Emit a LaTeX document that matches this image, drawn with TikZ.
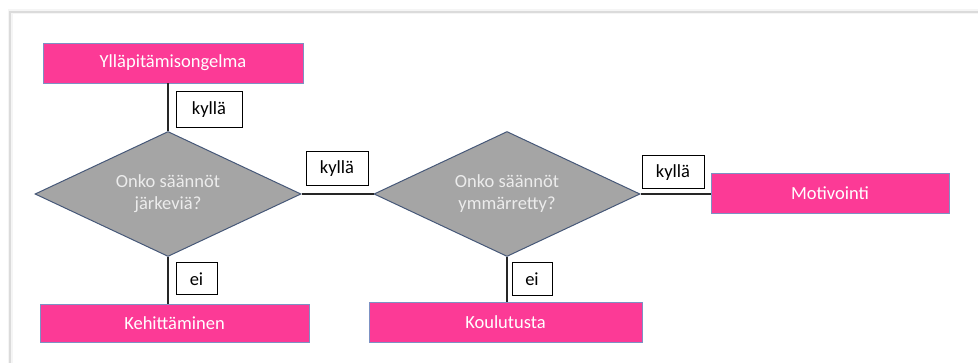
\documentclass[tikz,border=0pt]{standalone}
\usepackage{fontspec}
\setmainfont{Carlito}
\usetikzlibrary{shapes.geometric}
\definecolor{boxpink}{RGB}{252,58,150}
\definecolor{boxedge}{RGB}{125,145,195}
\definecolor{decfill}{RGB}{165,165,165}
\definecolor{decedge}{RGB}{70,88,120}
\definecolor{dectext}{RGB}{236,236,236}
\tikzset{
  x=1pt, y=-1pt,
  every node/.style={font=\fontsize{18.5}{22}\selectfont},
  actionbox/.style={rectangle, fill=boxpink, draw=boxedge, line width=0.8pt,
    text=white, inner sep=0pt, align=center},
  decision/.style={diamond, fill=decfill, draw=decedge, line width=1pt,
    text=dectext, inner sep=0pt, aspect=2.1, align=center,
    minimum width=266pt, minimum height=125pt},
  answer/.style={rectangle, fill=white, draw=black, line width=1pt,
    text=black, inner sep=0pt},
  link/.style={draw=black!85, line width=1.1pt}
}
\begin{document}
\begin{tikzpicture}
  \useasboundingbox (0,0) rectangle (978,363);
  % page frame with a soft edge
  \draw[black!4, line width=5pt] (10,363) -- (10,12) -- (978,12);
  \draw[black!14, line width=1.2pt] (10,363) -- (10,12) -- (978,12);

  % boxes and decisions
  \node[actionbox, minimum width=260pt, minimum height=40pt] (prob) at (173,63) {Ylläpitämisongelma};
  \node[decision] (d1) at (168,194) {Onko säännöt\\järkeviä?};
  \node[decision] (d2) at (507,194) {Onko säännöt\\ymmärretty?};
  \node[actionbox, minimum width=269pt, minimum height=38pt] (keh) at (174.5,323.5) {Kehittäminen};
  \node[actionbox, minimum width=273pt, minimum height=40pt] (kou) at (505.5,322) {Koulutusta};
  \node[actionbox, minimum width=238pt, minimum height=40pt] (mot) at (830,193) {Motivointi};

  % connectors
  \draw[link] (d1.north) -- (d1.north |- prob.south);
  \draw[link] (d1.south) -- (d1.south |- keh.north);
  \draw[link] (d1.east) -- (d2.west);
  \draw[link] (d2.south) -- (d2.south |- kou.north);
  \draw[link] (d2.east) -- (d2.east -| mot.west);

  % answer labels
  \node[answer, minimum width=66pt, minimum height=36pt] (y1) at (209,110) {kyllä};
  \node[answer, minimum width=62pt, minimum height=34pt] (y2) at (337,169) {kyllä};
  \node[answer, minimum width=62pt, minimum height=33pt] (y3) at (673,172.5) {kyllä};
  \node[answer, minimum width=41pt, minimum height=32pt] (n1) at (196.5,279) {ei};
  \node[answer, minimum width=40pt, minimum height=33pt] (n2) at (532,279.5) {ei};
\end{tikzpicture}
\end{document}
